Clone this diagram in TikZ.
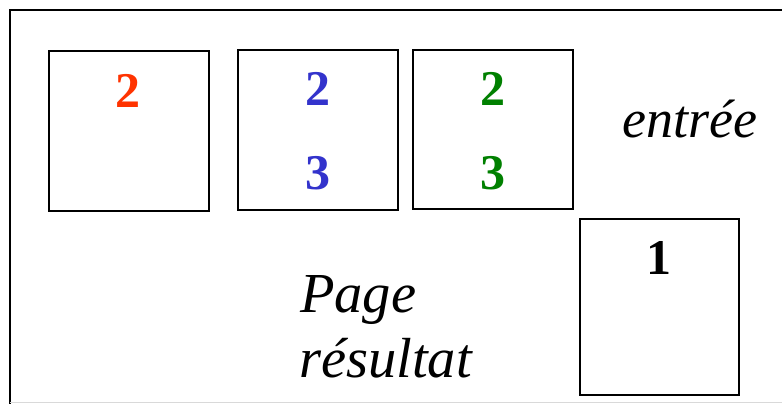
\documentclass[tikz,border=0pt]{standalone}
\usepackage{fontspec}
\setmainfont{Liberation Serif}
\definecolor{dred}{RGB}{255,51,0}
\definecolor{dblue}{RGB}{51,51,204}
\definecolor{dgreen}{RGB}{0,128,0}
\begin{document}
\begin{tikzpicture}[x=1pt,y=-1pt,
  pagebox/.style={draw=black,line width=1.6pt,inner sep=0pt,minimum width=160pt,minimum height=160pt},
  digit/.style={anchor=base,font=\fontsize{50}{50}\selectfont\bfseries,inner sep=0pt},
  label/.style={anchor=base west,font=\fontsize{54}{54}\selectfont\itshape,inner sep=0pt},
  biglabel/.style={label,font=\fontsize{56.5}{56.5}\selectfont\itshape}]
\useasboundingbox (0,0) rectangle (782,404);
\fill[white] (0,0) rectangle (782,404);
% outer frame
\coordinate (tr) at (782,10);
\coordinate (tl) at (10,10);
\coordinate (bl) at (10,404);
\draw[line width=1.6pt] (tr) -- (tl) -- (bl);
\coordinate (gl) at (10,402.5);
\coordinate (gr) at (782,402.5);
\draw[line width=1pt,black!15] (gl) -- (gr);
% boxes
\node[pagebox] (A) at (129,131) {};
\node[pagebox] (B) at (318,130) {};
\node[pagebox,minimum height=159pt] (C) at (493,129.5) {};
\node[pagebox,minimum width=159pt,minimum height=176pt] (D) at (659.5,307) {};
% digits
\node[digit,text=dred] (a2) at (128,107) {2};
\node[digit,text=dblue] (b2) at (317.5,106) {2};
\node[digit,text=dblue] (b3) at (317.5,189) {3};
\node[digit,text=dgreen] (c2) at (492.5,106) {2};
\node[digit,text=dgreen] (c3) at (492.5,189) {3};
\node[digit] (d1) at (659,274) {1};
% labels
\node[label] (entree) at (622,137) {entrée};
\node[biglabel] (page) at (300,312) {Page};
\node[biglabel] (resultat) at (299,377) {résultat};
\end{tikzpicture}
\end{document}
